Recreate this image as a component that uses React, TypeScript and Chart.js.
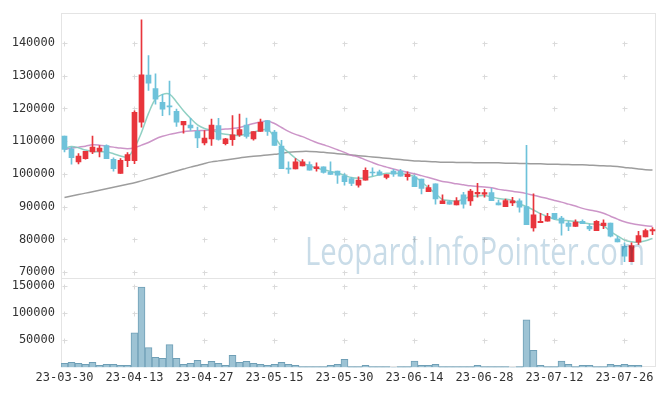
import React, { useEffect, useRef } from 'react';
import { Chart, registerables } from 'chart.js';

Chart.register(...registerables);

const dates = [
  '23-03-30','23-03-31','23-04-03','23-04-04','23-04-05','23-04-06','23-04-07','23-04-10','23-04-11','23-04-12',
  '23-04-13','23-04-14','23-04-17','23-04-18','23-04-19','23-04-20','23-04-21','23-04-24','23-04-25','23-04-26',
  '23-04-27','23-04-28','23-05-02','23-05-03','23-05-04','23-05-08','23-05-09','23-05-10','23-05-11','23-05-12',
  '23-05-15','23-05-16','23-05-17','23-05-18','23-05-19','23-05-22','23-05-23','23-05-24','23-05-25','23-05-26',
  '23-05-30','23-05-31','23-06-01','23-06-02','23-06-05','23-06-07','23-06-08','23-06-09','23-06-12','23-06-13',
  '23-06-14','23-06-15','23-06-16','23-06-19','23-06-20','23-06-21','23-06-22','23-06-23','23-06-26','23-06-27',
  '23-06-28','23-06-29','23-06-30','23-07-03','23-07-04','23-07-05','23-07-06','23-07-07','23-07-10','23-07-11',
  '23-07-12','23-07-13','23-07-14','23-07-17','23-07-18','23-07-19','23-07-20','23-07-21','23-07-24','23-07-25',
  '23-07-26','23-07-27','23-07-28','23-07-31','23-08-01',
];

const opens = [
  111550,107700,103700,104700,106700,106900,108700,104500,100150,104100,
  104100,115800,130200,126100,121850,120700,119100,115000,114970,113060,
  109520,110740,114780,109220,110440,111940,114970,110740,112970,116300,
  112760,108520,101800,101550,102470,102880,101650,102150,100650,100850,
  99440,98630,96610,98130,100500,100650,98930,100850,100850,99140,
  99140,98440,94620,97010,90970,91570,90550,93600,91780,93910,
  93800,94300,91170,90050,91170,91780,90050,83530,85120,85620,
  88020,86520,85000,84000,85520,84000,82710,84210,85000,80160,
  77940,73190,79150,80770,82600,
];
const highs = [
  111600,108200,106200,106900,111550,108700,108900,104900,104700,106500,
  119300,147050,136150,130600,124350,128400,119800,116100,117000,114300,
  113270,116790,117000,110900,117800,118300,117100,112970,116790,116300,
  113330,110240,103680,104680,104370,103700,103370,102150,103680,100850,
  100150,99000,99100,101850,101850,101200,99840,101450,101450,100650,
  99700,98440,96620,97010,93600,91900,92780,94410,95300,97110,
  95300,95600,92000,92300,92900,92380,108730,93910,88020,88020,
  88020,87030,85520,86030,86000,84700,85800,86030,85000,80970,
  78950,78950,82510,83200,83600,
];
const lows = [
  106700,103000,103100,104500,106200,105200,104700,100850,100150,102250,
  103150,114300,125550,121300,117800,118000,114550,112450,113270,108000,
  108900,108730,110300,108900,108730,111500,110940,110330,112970,111760,
  108700,101650,100150,101550,102470,101150,100850,100250,99830,97110,
  96620,96400,96000,98130,99440,99650,98500,99240,99340,98130,
  96110,93910,94620,90750,90970,90750,90550,89540,90360,92890,
  92900,91870,90550,90050,90350,88330,84540,82510,85120,85620,
  86030,81280,82700,84000,84810,82700,82710,83300,80770,79250,
  73190,73190,78450,80770,81480,
];
const closes = [
  107520,105000,105500,106900,108200,107900,104700,101650,104200,105900,
  118800,130300,127700,122850,119800,120500,115800,116100,114060,111030,
  110940,114970,110540,110740,111940,113580,111450,112970,115780,112970,
  108730,101650,101500,103680,103680,101150,102150,100450,99830,99650,
  97620,97110,98130,101150,100300,99650,99840,99950,99340,99950,
  96110,95600,95810,92380,91780,90750,91780,90750,94810,94410,
  94300,91870,90550,91870,91780,89850,84540,87560,85520,87030,
  86330,85000,84000,85320,84810,83200,85520,85000,80970,79250,
  74910,78150,81180,82710,83000,
];
const volumes = [
  7600,9400,7600,5800,9400,4000,5800,5800,4000,4000,
  63800,147700,36600,18500,16700,42000,16700,5800,7600,13000,
  5800,11200,7600,4000,22100,9400,11200,7600,5800,4000,
  5800,9400,5800,4000,1500,1500,1500,1500,4000,5800,
  14800,1500,1500,4000,1500,1500,1500,300,1500,1500,
  11800,4000,4000,5800,1500,1500,1500,1500,1500,4000,
  1500,1500,1500,1500,300,1500,87300,31700,4000,1500,
  1500,11800,5800,1500,4000,4000,1500,1500,5800,4000,
  5800,4000,4000,0,0,
];
const ma5 = [
  107800,108400,108000,107300,106900,106800,106700,106200,105500,105200,
  108000,112700,118500,122900,124300,124400,122000,119300,117000,115000,
  113900,113400,112600,112100,111900,111800,112200,112800,113300,113600,
  111300,108400,106600,104800,103400,102500,101800,101300,100800,100300,
  99600,98900,98700,98800,99200,99800,100200,100200,100150,99800,
  99200,97600,95800,94000,92200,91900,91700,92300,93100,93300,
  93400,93000,92500,92300,91900,90900,90000,89000,87900,87000,
  86200,85900,85700,85500,85100,84800,84600,84200,82500,81100,
  79800,79300,79150,79600,80300,
];
const ma20 = [
  107500,107900,108200,108500,108900,108800,108500,108200,107900,107700,
  108000,108800,109600,110700,111500,112100,112500,112900,113100,113200,
  113300,113400,113500,113700,113900,114200,114800,115400,115900,116200,
  115400,114200,113000,112100,111400,110500,109600,108900,108200,107400,
  106600,105700,105200,104300,103500,102700,102100,101500,101000,100500,
  100100,99500,98900,98300,97700,97400,97000,96700,96400,96200,
  96000,95800,95300,95000,94700,94400,94000,93500,93000,92500,
  91900,91400,90800,90200,89500,89000,88600,88000,87100,86200,
  85400,84900,84500,84200,84000,
];
const ma120 = [
  92800,93250,93700,94150,94600,95050,95500,95950,96400,96850,
  97300,97900,98500,99100,99700,100300,100900,101500,102100,102600,
  103200,103700,104000,104300,104600,104900,105200,105400,105600,105800,
  106000,106300,106600,106800,106900,106900,106800,106600,106400,106200,
  106000,105800,105600,105400,105200,105000,104800,104600,104400,104200,
  104000,103900,103800,103700,103600,103600,103500,103500,103500,103400,
  103400,103400,103400,103300,103300,103200,103200,103100,103100,103000,
  103000,102900,102900,102800,102800,102700,102600,102500,102400,102300,
  102000,101800,101500,101300,101200,
];
const priceTicks = [70000, 80000, 90000, 100000, 110000, 120000, 130000, 140000];
const volumeTicks = [50000, 100000, 150000];
const labelEvery = 10;
const watermark = 'Leopard.InfoPointer.com';

const UP = '#e8353c';
const DOWN = '#6ec2da';
const TICK_FONT = { family: "'DejaVu Sans Mono', monospace", size: 12 };

const decorPlugin = {
  id: 'decor',
  beforeDatasetsDraw(chart: any) {
    const { ctx } = chart;
    const x = chart.scales.x;
    const yp = chart.scales.y;
    const yv = chart.scales.yv;
    ctx.save();
    ctx.lineWidth = 1;
    ctx.strokeStyle = '#e4e4e4';
    ctx.strokeRect(Math.round(x.left) + 0.5, Math.round(yp.top) + 0.5, Math.round(x.right - x.left) - 1, Math.round(yp.bottom - yp.top));
    ctx.strokeRect(Math.round(x.left) + 0.5, Math.round(yv.top) + 0.5, Math.round(x.right - x.left) - 1, Math.round(yv.bottom - yv.top) - 1);
    ctx.strokeStyle = '#dadada';
    const arm = 2;
    const drawCross = (px: number, py: number) => {
      const cx = Math.floor(px) + 0.5;
      const cy = Math.round(py) + 0.5;
      ctx.beginPath();
      ctx.moveTo(cx - arm, cy);
      ctx.lineTo(cx + arm + 1, cy);
      ctx.moveTo(cx, cy - arm);
      ctx.lineTo(cx, cy + arm + 1);
      ctx.stroke();
    };
    for (let i = 0; i < dates.length; i += labelEvery) {
      const px = x.getPixelForValue(i);
      priceTicks.forEach((v) => drawCross(px, yp.getPixelForValue(v)));
      volumeTicks.forEach((v) => drawCross(px, yv.getPixelForValue(v)));
    }
    ctx.restore();
  },
  afterDatasetsDraw(chart: any) {
    const { ctx } = chart;
    ctx.save();
    ctx.globalCompositeOperation = 'multiply';
    ctx.fillStyle = '#c9dce8';
    ctx.font = "38px 'Open Sans', sans-serif";
    ctx.textBaseline = 'alphabetic';
    const w = ctx.measureText(watermark).width;
    const targetW = 340;
    ctx.translate(305, 265);
    ctx.scale(targetW / w, 1);
    ctx.fillText(watermark, 0, 0);
    ctx.restore();
  },
};

export default function App() {
  const ref = useRef<HTMLCanvasElement>(null);
  useEffect(() => {
    const canvas = ref.current;
    if (!canvas) return;
    const colors = opens.map((o, i) => (closes[i] >= o ? UP : DOWN));
    const chart = new Chart(canvas, {
      type: 'bar',
      data: {
        labels: dates,
        datasets: [
          {
            type: 'line', label: 'MA5', data: ma5, yAxisID: 'y',
            borderColor: 'rgba(125,200,185,0.85)', borderWidth: 1.5,
            pointRadius: 0, tension: 0.35, order: 10,
          },
          {
            type: 'line', label: 'MA20', data: ma20, yAxisID: 'y',
            borderColor: 'rgba(195,130,190,0.85)', borderWidth: 1.5,
            pointRadius: 0, tension: 0.35, order: 11,
          },
          {
            type: 'line', label: 'MA120', data: ma120, yAxisID: 'y',
            borderColor: 'rgba(140,140,140,0.85)', borderWidth: 1.5,
            pointRadius: 0, tension: 0.35, order: 12,
          },
          {
            type: 'bar', label: 'wick', data: lows.map((l, i) => [l, highs[i]]), yAxisID: 'y',
            backgroundColor: colors, barThickness: 1, grouped: false, order: 3,
          },
          {
            type: 'bar', label: 'body', data: opens.map((o, i) => [o, closes[i]]), yAxisID: 'y',
            backgroundColor: colors, barThickness: 5, minBarLength: 1, grouped: false, order: 2,
          },
          {
            type: 'bar', label: 'volume', data: volumes, yAxisID: 'yv',
            backgroundColor: '#9dc3d4', borderColor: '#6f9fb6', borderWidth: 1,
            barPercentage: 1, categoryPercentage: 1, grouped: false, order: 4,
          },
        ] as any,
      },
      options: {
        responsive: false,
        animation: false,
        events: [],
        layout: { padding: { left: 0, right: 9, top: 10, bottom: 0 } },
        plugins: { legend: { display: false }, tooltip: { enabled: false } },
        scales: {
          x: {
            offset: true,
            grid: { display: false, drawTicks: false },
            border: { display: false },
            afterFit: (s: any) => { s.height = 28.5; },
            ticks: {
              autoSkip: false, maxRotation: 0, minRotation: 0, padding: 3,
              color: '#333', font: TICK_FONT,
              callback: (_v: any, i: number) => (i % labelEvery === 0 ? dates[i] : null),
            },
          },
          yv: {
            position: 'left', stack: 'main', stackWeight: 90.2, weight: 1,
            min: 0, max: 164000,
            grid: { display: false, drawTicks: false },
            border: { display: false },
            afterFit: (s: any) => { s.width = 61; },
            afterBuildTicks: (s: any) => { s.ticks = volumeTicks.map((v) => ({ value: v })); },
            ticks: { padding: 6, color: '#333', font: TICK_FONT, callback: (v: any) => String(v) },
          },
          y: {
            position: 'left', stack: 'main', stackWeight: 267.3, weight: 2,
            min: 68200, max: 149100,
            grid: { display: false, drawTicks: false },
            border: { display: false },
            afterFit: (s: any) => { s.width = 61; },
            afterBuildTicks: (s: any) => { s.ticks = priceTicks.map((v) => ({ value: v })); },
            ticks: { padding: 6, color: '#333', font: TICK_FONT, callback: (v: any) => String(v) },
          },
        } as any,
      },
      plugins: [decorPlugin],
    });
    return () => chart.destroy();
  }, []);
  return (
    <div style={{ position: 'fixed', left: 0, top: 0, width: 665, height: 396, background: '#fff' }}>
      <canvas ref={ref} width={665} height={396} style={{ display: 'block', width: 665, height: 396 }} />
    </div>
  );
}
